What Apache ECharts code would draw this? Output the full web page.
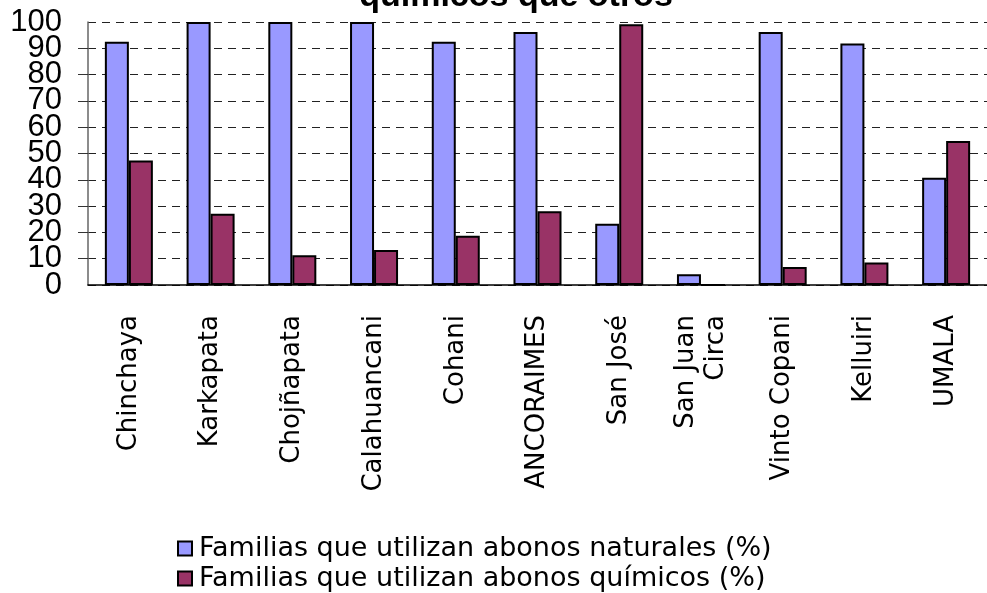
<!DOCTYPE html>
<html>
<head>
    <meta charset="utf-8">
    <title>ECharts</title>
    <script src="https://cdn.jsdelivr.net/npm/echarts@6/dist/echarts.min.js"></script>
</head>
<body style="margin:0">
    <div id="main" style="width: 987px;height:593px;"></div>
    <script type="text/javascript">
        var myChart = echarts.init(document.getElementById('main'));

        var categories = ['Chinchaya', 'Karkapata', 'Chojñapata', 'Calahuancani', 'Cohani',
            'ANCORAIMES', 'San José', 'San Juan\nCirca', 'Vinto Copani', 'Kelluiri', 'UMALA'];
        var naturales = [92.5, 100, 100, 100, 92.5, 96.2, 23.3, 4.1, 96.2, 91.8, 40.8];
        var quimicos = [47.3, 27.1, 11.3, 13.3, 18.7, 28, 99.1, 0, 6.8, 8.6, 54.8];
        var seriesNames = ['Familias que utilizan abonos naturales (%)', 'Familias que utilizan abonos químicos (%)'];

        var font = 'DejaVu Sans';
        var yLabelStyle = {
            margin: 26,
            fontFamily: 'Liberation Sans',
            fontSize: 31,
            color: '#000'
        };

        option = {
            backgroundColor: '#fff',
            animation: false,
            title: {
                text: 'químicos que otros',
                left: 511,
                top: -25,
                textAlign: 'center',
                textStyle: {
                    fontFamily: 'Liberation Sans',
                    fontWeight: 'bold',
                    fontSize: 34,
                    color: '#000'
                }
            },
            legend: {
                orient: 'vertical',
                left: 172,
                top: 530,
                height: 90,
                itemWidth: 14,
                itemHeight: 14,
                itemGap: 3,
                icon: 'rect',
                itemStyle: { borderColor: '#000', borderWidth: 2 },
                textStyle: { fontFamily: font, fontSize: 27, color: '#000', padding: [0, 0, 0, 2] },
                data: seriesNames
            },
            grid: {
                left: 88,
                right: -10,
                top: 22,
                bottom: 308
            },
            xAxis: {
                type: 'category',
                data: categories,
                axisLine: { lineStyle: { color: '#000', width: 1.5 } },
                axisTick: { length: 10, lineStyle: { color: '#555' } },
                axisLabel: {
                    rotate: 90,
                    interval: 0,
                    margin: 30,
                    fontFamily: font,
                    fontSize: 26,
                    lineHeight: 30,
                    color: '#000'
                }
            },
            yAxis: [{
                // odd tens, with line, ticks and grid lines
                type: 'value',
                min: 0,
                max: 100,
                interval: 10,
                axisLine: { show: true, lineStyle: { color: '#666', width: 1.5 } },
                axisTick: { show: true, length: 10, lineStyle: { color: '#333' } },
                axisLabel: Object.assign({
                    showMinLabel: false,
                    showMaxLabel: false,
                    formatter: function (v) { return v % 20 === 10 ? String(v) : ''; }
                }, yLabelStyle),
                splitLine: {
                    lineStyle: { color: '#222', type: [8, 6], width: 1 }
                }
            }, {
                // even tens, labels only
                type: 'value',
                position: 'left',
                min: 0,
                max: 100,
                interval: 20,
                axisLine: { show: false },
                axisTick: { show: false },
                splitLine: { show: false },
                axisLabel: yLabelStyle
            }],
            series: [{
                name: seriesNames[0],
                type: 'bar',
                barWidth: 24,
                barGap: '0%',
                itemStyle: { color: '#9999FF', borderColor: '#000', borderWidth: 2 },
                data: naturales
            }, {
                name: seriesNames[1],
                type: 'bar',
                barWidth: 24,
                itemStyle: { color: '#993366', borderColor: '#000', borderWidth: 2 },
                data: quimicos
            }]
        };

        myChart.setOption(option);
    </script>
</body>
</html>
